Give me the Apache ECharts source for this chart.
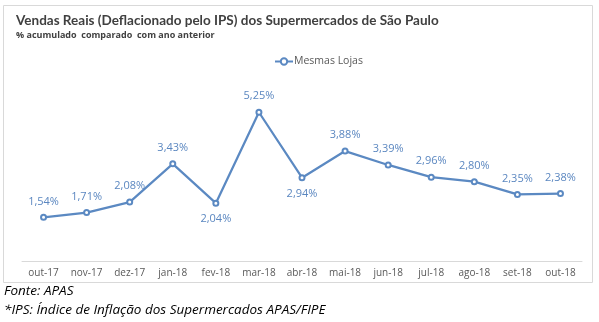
<!DOCTYPE html>
<html><head><meta charset="utf-8">
<script src="https://cdn.jsdelivr.net/npm/echarts@6/dist/echarts.min.js"></script>
<style>html,body{margin:0;padding:0;background:#fff}#c{width:599px;height:322px}</style>
</head><body><div id="c"></div>
<script>
const categories = ['out-17','nov-17','dez-17','jan-18','fev-18','mar-18','abr-18','mai-18','jun-18','jul-18','ago-18','set-18','out-18'];
const mesmasLojas = [1.54, 1.71, 2.08, 3.43, 2.04, 5.25, 2.94, 3.88, 3.39, 2.96, 2.80, 2.35, 2.38];
const labelBelow = ['fev-18', 'abr-18'];
const seriesName = 'Mesmas Lojas';
const titleText = 'Vendas Reais (Deflacionado pelo IPS) dos Supermercados de São Paulo';
const subtitleText = '% acumulado  comparado  com ano anterior';
const footer1 = 'Fonte: APAS';
const footer2 = '*IPS: Índice de Inflação dos Supermercados APAS/FIPE';

const blue = '#5b89c2';
const chart = echarts.init(document.getElementById('c'), null, {renderer: 'canvas'});
chart.setOption({
  animation: false,
  textStyle: {fontFamily: 'Open Sans'},
  graphic: [
    {type: 'rect', shape: {x: 3.5, y: 5.5, width: 589, height: 277}, style: {fill: 'none', stroke: '#d9d9d9', lineWidth: 1}, z: -1},
    {type: 'text', left: 4, top: 284, style: {text: footer1, font: 'italic 13.5px "Open Sans"', fill: '#000'}},
    {type: 'text', left: 4, top: 303, style: {text: footer2, font: 'italic 13.5px "Open Sans"', fill: '#000'}}
  ],
  title: {
    text: titleText, subtext: subtitleText, left: 11, top: 9, itemGap: 3,
    textStyle: {fontSize: 13.5, fontWeight: 'bold', color: '#404040', fontFamily: 'Lato'},
    subtextStyle: {fontSize: 9, fontWeight: 'bold', color: '#404040', fontFamily: 'Open Sans'}
  },
  legend: {
    top: 51, left: 269, itemWidth: 18, itemHeight: 8, itemGap: 4,
    textStyle: {fontSize: 10.5, color: '#595959', fontFamily: 'Open Sans', padding: [0,0,0,-4]},
    data: [{name: seriesName}]
  },
  grid: {left: 22, right: 17, top: 91, bottom: 61},
  xAxis: {
    type: 'category', data: categories, boundaryGap: true,
    axisLine: {lineStyle: {color: '#d9d9d9'}}, axisTick: {show: false},
    axisLabel: {color: '#595959', fontSize: 10, margin: 7, interval: 0, fontFamily: 'Open Sans'}
  },
  yAxis: {type: 'value', min: 0, max: 6, interval: 1, show: false, splitLine: {show: false}},
  series: [{
    name: seriesName, type: 'line',
    data: mesmasLojas.map((v, i) => ({
      value: v,
      label: {position: labelBelow.includes(categories[i]) ? 'bottom' : 'top'}
    })),
    symbol: 'emptyCircle', symbolSize: 5,
    lineStyle: {color: blue, width: 2.25},
    itemStyle: {color: blue, borderWidth: 1.5},
    label: {
      show: true, fontSize: 11, color: '#5b87c0', distance: 7, fontFamily: 'Open Sans',
      formatter: p => p.value.toFixed(2).replace('.', ',') + '%'
    }
  }]
});
</script></body></html>
